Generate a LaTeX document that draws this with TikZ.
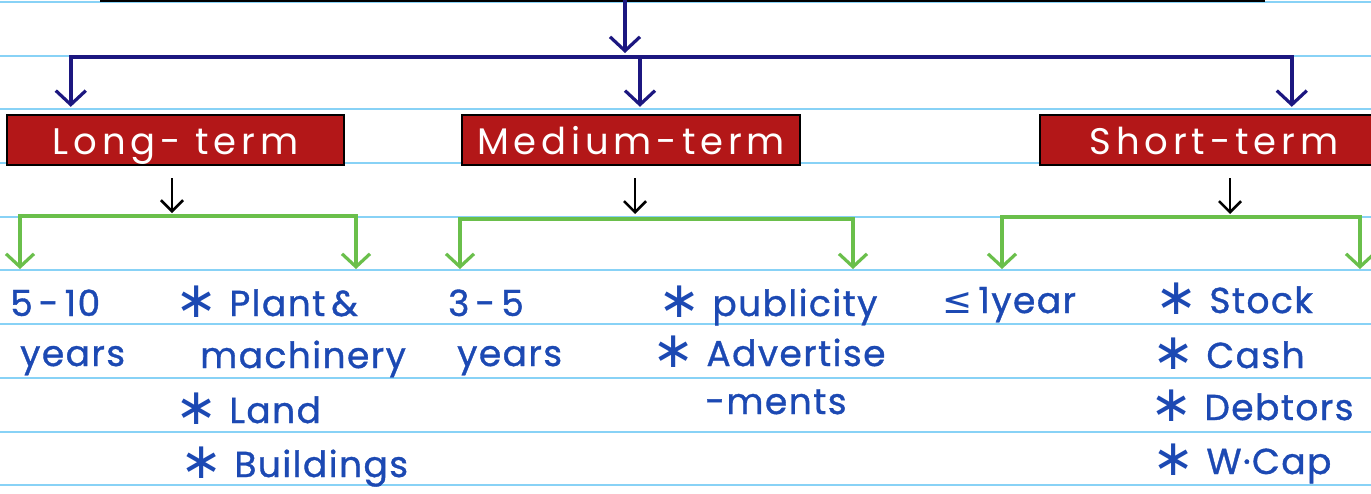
\documentclass[tikz,border=0pt]{standalone}
\usepackage{fontspec}
\setmainfont{Poppins}[LetterSpace=4, FakeBold=1]
\newfontfamily\hand{Poppins}[LetterSpace=13]
\newfontfamily\symf{DejaVu Sans}
\usetikzlibrary{arrows.meta}
\definecolor{rulecol}{HTML}{88D2F6}
\definecolor{navyline}{HTML}{1C1780}
\definecolor{boxred}{HTML}{B31718}
\definecolor{grn}{HTML}{6ABF4B}
\definecolor{ink}{HTML}{1C49B3}
\newcommand\bul{{\symf\raisebox{-1pt}{\scalebox{1.4}{∗}}}\hspace{12pt}}
\begin{document}
\begin{tikzpicture}[x=1pt,y=-1pt,
  navyarrow/.style={draw=navyline, line width=3.4pt,
    -{Straight Barb[length=14pt,width=30pt,line width=3.2pt]}},
  blackarrow/.style={draw=black, line width=2.6pt,
    -{Straight Barb[length=11pt,width=22pt,line width=2.6pt]}},
  greenarrow/.style={draw=grn, line width=3.4pt,
    -{Straight Barb[length=13pt,width=28pt,line width=3.2pt]}},
  redbox/.style={draw=black, line width=2.4pt, fill=boxred, text=white,
    minimum height=50pt, inner sep=0pt, text height=30pt, text depth=2pt,
    font=\hand\fontsize{37}{42}\selectfont},
  item/.style={anchor=base west, inner sep=0pt, text=ink,
    font=\fontsize{36}{42}\selectfont}]
  \clip (0,0) rectangle (1371,493);
  \fill[white] (0,0) rectangle (1371,493);
  % ruled paper
  \foreach \yy in {2,56,109,163,217,270,324,378,432,485}
    \draw[rulecol, line width=1.8pt] (0,\yy) -- (1371,\yy);
  % edge of the box above
  \draw[black, line width=3.4pt] (100,0.5) -- (1265,0.5);

  % term boxes
  \node[redbox, minimum width=337pt] (long)  at (175.5,140) {Long- term};
  \node[redbox, minimum width=338pt] (med)   at (631,140)   {Medium-term};
  \node[redbox, minimum width=380pt] (short) at (1230,140)  {\hspace*{-32pt}Short-term};

  % top split
  \coordinate (src) at (625,0);
  \coordinate (hub) at (625,53);
  \coordinate (bar) at (640,57);
  \draw[navyarrow] (src) -- (hub);
  \draw[navyarrow, shorten >=7pt] (bar) -| ([xshift=65pt]long.north west);
  \draw[navyarrow, shorten >=7pt] (bar) -- (bar |- med.north);
  \draw[navyarrow, shorten >=7pt] (bar) -| ([xshift=253pt]short.north west);

  % lower splits
  \coordinate (lbar) at (172,216);
  \coordinate (mbar) at (635,219);
  \coordinate (sbar) at (1230,217);
  \draw[blackarrow, shorten <=12pt, shorten >=3pt] (long.south -| lbar) -- (lbar);
  \draw[blackarrow, shorten <=12pt, shorten >=5pt] (med.south -| mbar) -- (mbar);
  \draw[blackarrow, shorten <=12pt, shorten >=3pt] (short.south -| sbar) -- (sbar);

  \coordinate (l1) at (20,269);
  \coordinate (l2) at (356,269);
  \coordinate (m1) at (460,269);
  \coordinate (m2) at (853,269);
  \coordinate (s1) at (1002,269);
  \coordinate (s2) at (1360,269);
  \draw[greenarrow] (lbar) -| (l1);
  \draw[greenarrow] (lbar) -| (l2);
  \draw[greenarrow] (mbar) -| (m1);
  \draw[greenarrow] (mbar) -| (m2);
  \draw[greenarrow] (sbar) -| (s1);
  \draw[greenarrow] (sbar) -| (s2);

  % long-term details
  \node[item] (lt1) at (10,316)  {5\,-\,10};
  \node[item] (lt2) at (20,366)  {years};
  \node[item] (la1) at (175,316) {\bul Plant\,\&};
  \node[item] (la2) at (200,368) {machinery};
  \node[item] (la3) at (175,423) {\bul Land};
  \node[item] (la4) at (180,477) {\bul Buildings};

  % medium-term details
  \node[item] (mt1) at (448,316) {3\,-\,5};
  \node[item] (mt2) at (457,366) {years};
  \node[item] (ma1) at (658,316) {\bul publicity};
  \node[item] (ma2) at (652,366) {\bul Advertise};
  \node[item] (ma3) at (705,414) {-ments};

  % short-term details
  \node[item] (st1) at (942,313)  {{\symf ≤}\,1year};
  \node[item] (sa1) at (1155,313) {\bul Stock};
  \node[item] (sa2) at (1152,368) {\bul Cash};
  \node[item] (sa3) at (1150,420) {\bul Debtors};
  \node[item] (sa4) at (1152,474) {\bul W·Cap};
\end{tikzpicture}
\end{document}
